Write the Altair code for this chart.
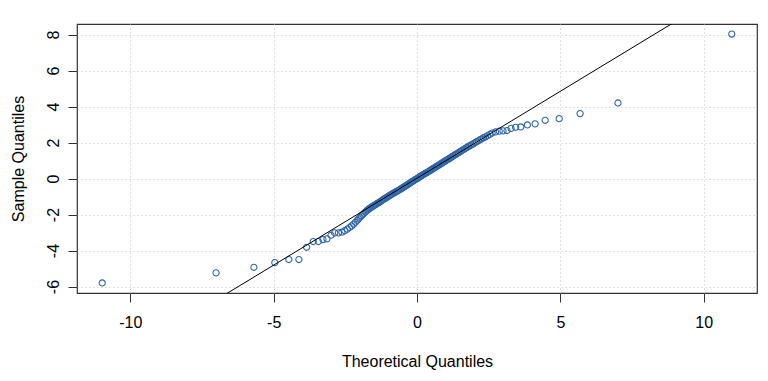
import altair as alt
import pandas as pd

# Theoretical quantiles (x) and sample quantiles (y)
THEO = [
    -10.98, -7.01, -5.69, -4.96, -4.47, -4.12, -3.85, -3.62, -3.44, -3.28,
    -3.14, -3.00, -2.87, -2.74, -2.62,
    -2.52, -2.43, -2.35, -2.28, -2.21, -2.15, -2.09, -2.04, -1.99, -1.94,
    -1.89, -1.85, -1.80, -1.76, -1.72, -1.68, -1.64, -1.60, -1.56, -1.52,
    -1.48, -1.44, -1.40, -1.36, -1.32, -1.28, -1.24, -1.20, -1.16, -1.12,
    -1.08, -1.04,
    -1.00, -0.96, -0.92, -0.88, -0.84, -0.80, -0.76, -0.72, -0.68, -0.64,
    -0.60, -0.56, -0.52, -0.48, -0.44, -0.40, -0.36, -0.32, -0.28, -0.24,
    -0.20, -0.16, -0.12, -0.08, -0.04, 0.00, 0.04, 0.08, 0.12, 0.16,
    0.20, 0.24, 0.28, 0.32, 0.36, 0.40, 0.44, 0.48, 0.52, 0.56,
    0.60, 0.64, 0.68, 0.72, 0.76, 0.80, 0.84, 0.88, 0.92, 0.96,
    1.00, 1.04, 1.08, 1.12, 1.16, 1.20, 1.24, 1.28, 1.32, 1.36,
    1.40, 1.45, 1.50, 1.55, 1.60, 1.65, 1.70, 1.75, 1.80, 1.85,
    1.90, 1.96, 2.02, 2.08, 2.14, 2.20, 2.26, 2.32, 2.39, 2.46,
    2.54, 2.62,
    2.74, 2.87, 3.00, 3.14, 3.28, 3.44, 3.62, 3.85, 4.12, 4.47,
    4.96, 5.69, 7.01, 10.98,
]
SAMPLE = [
    -5.80, -5.24, -4.93, -4.67, -4.50, -4.50, -3.82, -3.50, -3.50, -3.39,
    -3.35, -3.15, -3.02, -3.02, -2.98,
    -2.90, -2.81, -2.72, -2.63, -2.53, -2.43, -2.33, -2.24, -2.15, -2.07,
    -1.99, -1.93, -1.86, -1.80, -1.74, -1.69, -1.64, -1.60, -1.56, -1.52,
    -1.48, -1.44, -1.40, -1.36, -1.32, -1.28, -1.23, -1.19, -1.15, -1.11,
    -1.07, -1.03,
    -0.99, -0.95, -0.91, -0.87, -0.83, -0.80, -0.76, -0.72, -0.69, -0.65,
    -0.61, -0.57, -0.53, -0.49, -0.45, -0.41, -0.37, -0.33, -0.29, -0.24,
    -0.20, -0.16, -0.12, -0.08, -0.04, 0.00, 0.04, 0.08, 0.12, 0.16,
    0.20, 0.24, 0.28, 0.31, 0.35, 0.39, 0.43, 0.47, 0.51, 0.55,
    0.59, 0.63, 0.67, 0.71, 0.75, 0.79, 0.83, 0.87, 0.91, 0.95,
    0.99, 1.03, 1.07, 1.11, 1.15, 1.19, 1.23, 1.27, 1.31, 1.35,
    1.39, 1.44, 1.49, 1.54, 1.59, 1.64, 1.69, 1.74, 1.79, 1.83,
    1.88, 1.93, 1.99, 2.05, 2.10, 2.16, 2.21, 2.27, 2.32, 2.38,
    2.45, 2.53,
    2.59, 2.63, 2.65, 2.67, 2.79, 2.85, 2.87, 2.98, 3.04, 3.24,
    3.33, 3.61, 4.20, 8.03,
]

# Reference line (qqline) parameters
LINE_INTERCEPT = 0.02
LINE_SLOPE = 0.966

X_TICKS = [-10, -5, 0, 5, 10]
Y_TICKS = [-6, -4, -2, 0, 2, 4, 6, 8]
X_DOMAIN = [-11.86, 11.86]
Y_DOMAIN = [-6.36, 8.59]

FONT = "Liberation Sans"
POINT_COLOR = "#2f65a8"

pts = pd.DataFrame({"x": THEO, "y": SAMPLE})
line_df = pd.DataFrame({"x": X_DOMAIN})
line_df["y"] = LINE_INTERCEPT + LINE_SLOPE * line_df["x"]

xscale = alt.Scale(domain=X_DOMAIN, nice=False, zero=False)
yscale = alt.Scale(domain=Y_DOMAIN, nice=False, zero=False)

xaxis = alt.Axis(
    values=X_TICKS, title="Theoretical Quantiles", grid=True,
    gridDash=[1, 3], gridColor="#c4c4c4", gridWidth=1,
    domain=False, ticks=True, tickSize=9, tickColor="#333333",
    labelFontSize=16, titleFontSize=16, titleFontWeight="normal",
    labelPadding=12, titlePadding=23, labelExpr="'' + datum.value",
    labelOverlap=False,
    labelColor="black", titleColor="black", labelFont=FONT, titleFont=FONT,
)
yaxis = alt.Axis(
    values=Y_TICKS, title="Sample Quantiles", grid=True,
    gridDash=[1, 3], gridColor="#c4c4c4", gridWidth=1,
    domain=False, ticks=True, tickSize=9, tickColor="#333333",
    labelFontSize=16, titleFontSize=16, titleFontWeight="normal",
    labelAngle=270, labelAlign="center", labelBaseline="bottom",
    labelPadding=7, titlePadding=19, labelExpr="'' + datum.value",
    labelOverlap=False, labelSeparation=0,
    labelColor="black", titleColor="black", labelFont=FONT, titleFont=FONT,
)

points = alt.Chart(pts).mark_point(
    shape="circle", filled=False, size=38, strokeWidth=1.1,
    color=POINT_COLOR, opacity=1, clip=True,
).encode(
    x=alt.X("x:Q", scale=xscale, axis=xaxis),
    y=alt.Y("y:Q", scale=yscale, axis=yaxis),
)

line = alt.Chart(line_df).mark_line(color="black", strokeWidth=1, clip=True).encode(
    x=alt.X("x:Q", scale=xscale, axis=xaxis),
    y=alt.Y("y:Q", scale=yscale, axis=yaxis),
)

chart = alt.layer(points, line).properties(
    width=680, height=269,
    autosize=alt.AutoSizeParams(type="none"),
    padding={"left": 69, "top": 16, "right": 3, "bottom": 85},
    background="white",
).configure_view(stroke="#333333", strokeWidth=1.2).configure_axis(
    labelOverlap=False
)

chart.save("out.html", embed_options={"renderer": "svg", "actions": False})
